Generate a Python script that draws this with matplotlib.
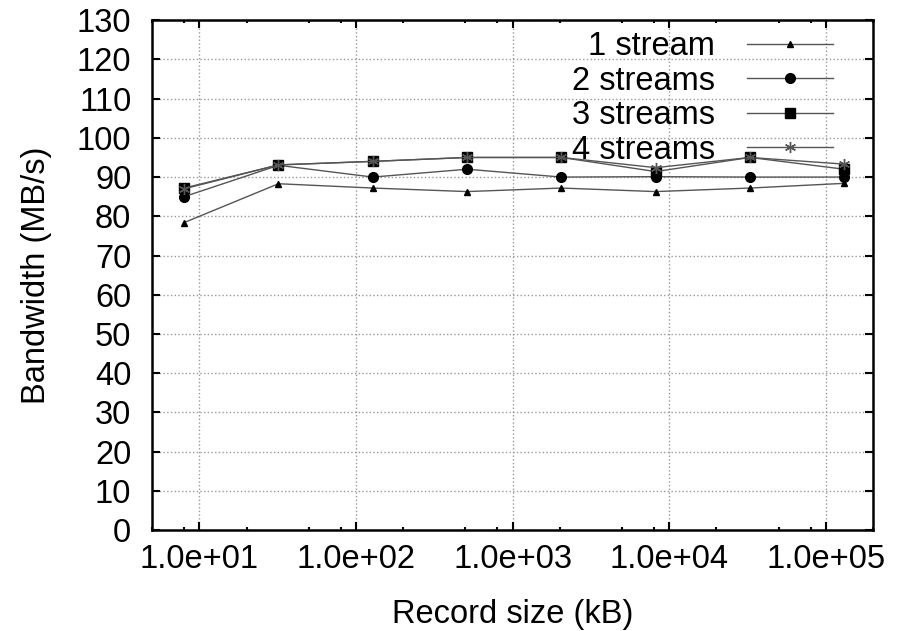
import matplotlib
matplotlib.use("Agg")
import matplotlib.pyplot as plt
import matplotlib.ticker as mticker

plt.rcParams['font.family'] = ['Liberation Sans', 'DejaVu Sans']

# --- Data ---
record_size = [8, 32, 128, 512, 2048, 8192, 32768, 131072]
one_stream = [78.4, 88.3, 87.2, 86.3, 87.2, 86.3, 87.2, 88.4]
two_streams = [85.0, 93.0, 90.0, 92.0, 90.0, 90.1, 90.0, 90.0]
three_streams = [87.2, 93.1, 94.0, 95.0, 95.0, 91.4, 95.0, 92.0]
four_streams = [87.0, 93.1, 94.0, 95.0, 95.0, 92.4, 95.0, 93.3]

labels = ['1 stream', '2 streams', '3 streams', '4 streams']
y_ticks = list(range(0, 131, 10))

FS = 23.5

# --- Plot ---
fig = plt.figure(figsize=(9.06, 6.31), dpi=100)
ax = fig.add_axes([0.168, 0.160, 0.7956, 0.808])

line_kw = dict(color='#555555', linewidth=1.0)
ax.plot(record_size, one_stream, marker='^', markersize=5, markerfacecolor='black',
        markeredgecolor='black', label=labels[0], **line_kw)
ax.plot(record_size, two_streams, marker='o', markersize=7, markerfacecolor='black',
        markeredgecolor='black', label=labels[1], **line_kw)
ax.plot(record_size, three_streams, marker='s', markersize=7, markerfacecolor='black',
        markeredgecolor='black', label=labels[2], **line_kw)
ax.plot(record_size, four_streams, marker=(6, 2, 0), markersize=8, markeredgewidth=1.0,
        markeredgecolor='#555555', label=labels[3], **line_kw)

ax.set_xscale('log')
ax.set_xlim(5, 2e5)
ax.set_ylim(0, 130)
ax.set_yticks(y_ticks)
ax.xaxis.set_major_locator(mticker.LogLocator(base=10, numticks=20))
ax.xaxis.set_minor_locator(mticker.LogLocator(base=10, subs=(2, 5, 8), numticks=20))
ax.xaxis.set_minor_formatter(mticker.NullFormatter())
ax.xaxis.set_major_formatter(mticker.FuncFormatter(lambda v, p: f'{v:.1e}'))

ax.tick_params(axis='both', which='both', direction='in', top=True, right=True,
               labelsize=FS, width=1.5)
ax.tick_params(axis='both', which='major', length=5.5)
ax.tick_params(axis='x', which='minor', length=2.5)
ax.tick_params(axis='y', which='major', pad=15)
ax.tick_params(axis='x', which='major', pad=10)
for s in ax.spines.values():
    s.set_linewidth(1.8)

ax.grid(True, which='major', linestyle=':', color='#999999', linewidth=1.0)
ax.set_axisbelow(True)

ax.set_xlabel('Record size (kB)', fontsize=FS, labelpad=17)
ax.set_ylabel('Bandwidth (MB/s)', fontsize=FS, labelpad=18)

ax.legend(loc='upper right', bbox_to_anchor=(833 / 906, 1 - 31 / 631),
          bbox_transform=fig.transFigure, frameon=False, markerfirst=False,
          fontsize=FS, handlelength=2.64, handletextpad=0.98, labelspacing=0.11,
          borderpad=0, borderaxespad=0)

fig.savefig('out.png', dpi=100)
